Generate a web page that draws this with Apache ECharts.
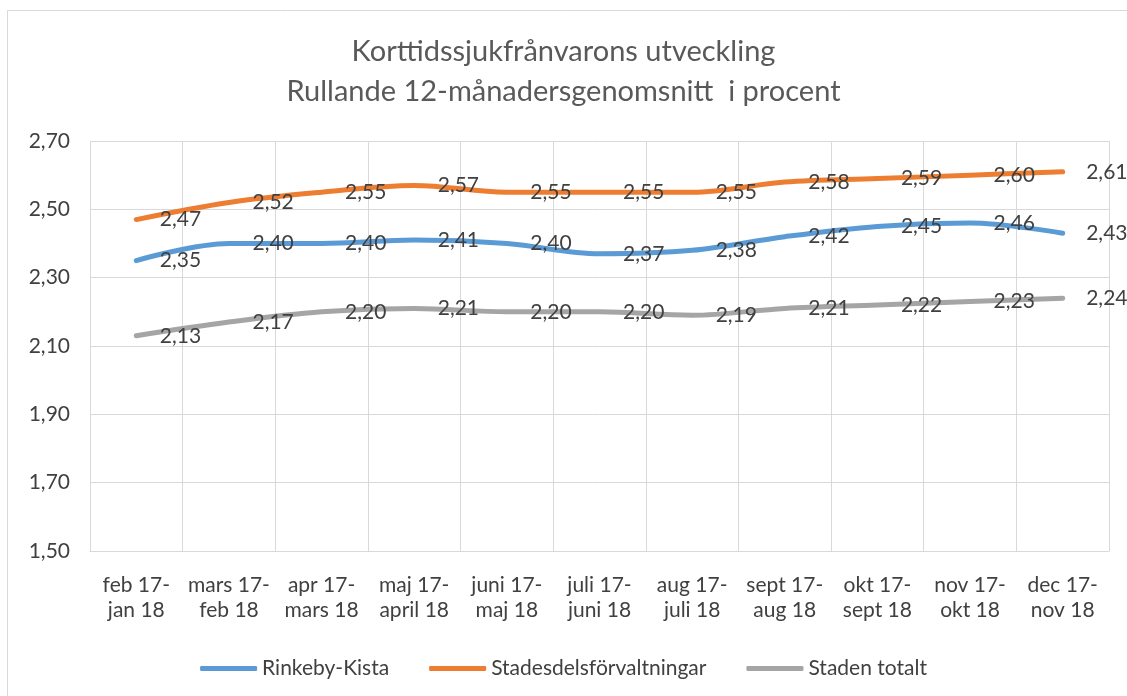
<!DOCTYPE html>
<html>
<head>
<meta charset="utf-8">
<script src="https://cdn.jsdelivr.net/npm/echarts@6/dist/echarts.min.js"></script>
<style>
  html, body { margin: 0; padding: 0; background: #ffffff; }
  #chart { width: 1127px; height: 696px; }
</style>
</head>
<body>
<div id="chart"></div>
<script>
// Rolling 12-month periods
const categories = [
  'feb 17-\njan 18', 'mars 17-\nfeb 18', 'apr 17-\nmars 18', 'maj 17-\napril 18',
  'juni 17-\nmaj 18', 'juli 17-\njuni 18', 'aug 17-\njuli 18', 'sept 17-\naug 18',
  'okt 17-\nsept 18', 'nov 17-\nokt 18', 'dec 17-\nnov 18'
];

// Short-term sick leave, percent
const rinkebyKista = [2.35, 2.40, 2.40, 2.41, 2.40, 2.37, 2.38, 2.42, 2.45, 2.46, 2.43];
const stadsdelsforvaltningar = [2.47, 2.52, 2.55, 2.57, 2.55, 2.55, 2.55, 2.58, 2.59, 2.60, 2.61];
const stadenTotalt = [2.13, 2.17, 2.20, 2.21, 2.20, 2.20, 2.19, 2.21, 2.22, 2.23, 2.24];

const seriesNames = ['Rinkeby-Kista', 'Stadesdelsförvaltningar', 'Staden totalt'];
const colors = ['#5b9bd5', '#ed7d31', '#a5a5a5'];

const yMin = 1.5, yMax = 2.7, yStep = 0.2;

const FONT = 'Lato, "Open Sans", sans-serif';
const TEXT = '#404040';
const GRID = '#d9d9d9';

function fmt(v) { return v.toFixed(2).replace('.', ','); }

function lineSeries(name, data, color) {
  return {
    name: name,
    type: 'line',
    data: data,
    smooth: 0.35,
    symbol: 'circle',
    symbolSize: 1,
    showSymbol: true,
    itemStyle: { color: color },
    lineStyle: { color: color, width: 5, cap: 'round', join: 'round' },
    label: {
      show: true,
      position: 'right',
      distance: 23,
      color: TEXT,
      fontFamily: FONT,
      fontSize: 21,
      formatter: p => fmt(p.value)
    },
    emphasis: { disabled: true }
  };
}

const chart = echarts.init(document.getElementById('chart'), null, { renderer: 'canvas' });

chart.setOption({
  animation: false,
  backgroundColor: '#ffffff',
  color: colors,
  title: {
    text: 'Korttidssjukfrånvarons utveckling\nRullande 12-månadersgenomsnitt  i procent',
    left: 'center',
    top: 27,
    textStyle: {
      fontFamily: FONT,
      fontSize: 29,
      fontWeight: 'normal',
      color: '#595959',
      lineHeight: 40
    }
  },
  graphic: [{
    type: 'rect',
    shape: { x: 7.5, y: 10.5, width: 1300, height: 900 },
    style: { fill: 'none', stroke: GRID, lineWidth: 1 },
    silent: true,
    z: -1
  }],
  grid: { left: 90, right: 18, top: 141, bottom: 145 },
  legend: {
    top: 653,
    left: 'center',
    itemWidth: 57,
    itemHeight: 5,
    itemGap: 40,
    icon: 'roundRect',
    textStyle: { fontFamily: FONT, fontSize: 21, color: TEXT },
    data: seriesNames
  },
  xAxis: {
    type: 'category',
    data: categories,
    boundaryGap: true,
    axisLine: { show: true, lineStyle: { color: GRID } },
    axisTick: { show: false },
    splitLine: { show: true, interval: 0, lineStyle: { color: GRID } },
    axisLabel: {
      interval: 0,
      margin: 22,
      fontFamily: FONT,
      fontSize: 21,
      color: TEXT,
      lineHeight: 25
    }
  },
  yAxis: {
    type: 'value',
    min: yMin,
    max: yMax,
    interval: yStep,
    axisLine: { show: false },
    axisTick: { show: false },
    splitLine: { show: true, lineStyle: { color: GRID } },
    axisLabel: {
      margin: 20,
      fontFamily: FONT,
      fontSize: 21,
      color: TEXT,
      formatter: v => fmt(v)
    }
  },
  series: [
    lineSeries(seriesNames[0], rinkebyKista, colors[0]),
    lineSeries(seriesNames[1], stadsdelsforvaltningar, colors[1]),
    lineSeries(seriesNames[2], stadenTotalt, colors[2])
  ]
});
</script>
</body>
</html>
